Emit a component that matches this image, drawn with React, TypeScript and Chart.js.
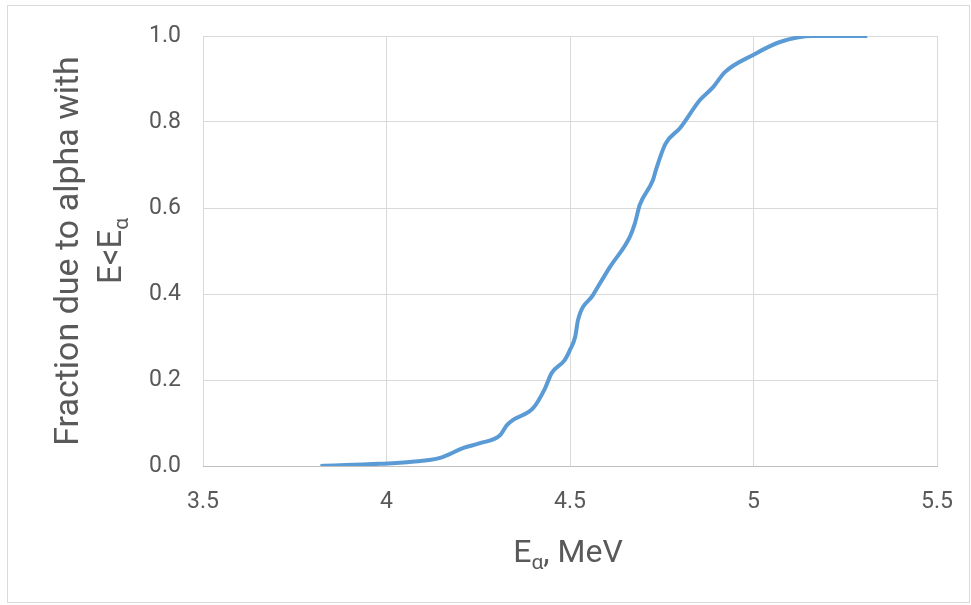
import React, { useEffect, useRef } from "react";
import { Chart, registerables } from "chart.js";

Chart.register(...registerables);

const energies = [3.82, 3.98, 4.07, 4.146, 4.21, 4.255, 4.31, 4.328, 4.345, 4.4, 4.43, 4.45, 4.486, 4.5, 4.514, 4.522, 4.563, 4.609, 4.663, 4.677, 4.69, 4.726, 4.734, 4.76, 4.8, 4.854, 4.89, 4.922, 4.999, 5.072, 5.162, 5.31];
const fractions = [0, 0.005, 0.01, 0.019, 0.042, 0.053, 0.072, 0.095, 0.107, 0.135, 0.177, 0.216, 0.247, 0.27, 0.3, 0.34, 0.398, 0.463, 0.533, 0.565, 0.607, 0.665, 0.688, 0.749, 0.786, 0.851, 0.881, 0.916, 0.956, 0.986, 1.0, 1.0];

const xTitle = [{ t: "E" }, { t: "α", sub: true }, { t: ", MeV" }];
const yTitle1 = [{ t: "Fraction due to alpha with" }];
const yTitle2 = [{ t: "E<E" }, { t: "α", sub: true }];

const FONT = "'Roboto', sans-serif";
const TEXT = "#595959";

function drawRich(ctx: CanvasRenderingContext2D, segs: { t: string; sub?: boolean }[], cx: number, baseline: number, size: number) {
  const subSize = Math.round(size * 0.65);
  let total = 0;
  const widths = segs.map((s) => {
    ctx.font = `${s.sub ? subSize : size}px ${FONT}`;
    const w = ctx.measureText(s.t).width;
    total += w;
    return w;
  });
  let x = cx - total / 2;
  ctx.textAlign = "left";
  ctx.textBaseline = "alphabetic";
  segs.forEach((s, i) => {
    ctx.font = `${s.sub ? subSize : size}px ${FONT}`;
    ctx.fillText(s.t, x, baseline + (s.sub ? size * 0.22 : 0));
    x += widths[i];
  });
}

const decor = {
  id: "decor",
  beforeDraw(chart: any) {
    const ctx = chart.ctx as CanvasRenderingContext2D;
    ctx.save();
    ctx.fillStyle = "#ffffff";
    ctx.fillRect(0, 0, chart.width, chart.height);
    ctx.strokeStyle = "#d9d9d9";
    ctx.lineWidth = 1;
    ctx.strokeRect(7.5, 5.5, 962, 597);
    ctx.restore();
  },
  afterDraw(chart: any) {
    const ctx = chart.ctx as CanvasRenderingContext2D;
    ctx.save();
    ctx.fillStyle = TEXT;
    drawRich(ctx, xTitle, 568, 562, 32);
    ctx.save();
    ctx.translate(78, 251);
    ctx.rotate(-Math.PI / 2);
    drawRich(ctx, yTitle1, 0, 0, 34);
    ctx.restore();
    ctx.save();
    ctx.translate(121, 251);
    ctx.rotate(-Math.PI / 2);
    drawRich(ctx, yTitle2, 0, 0, 33);
    ctx.restore();
    ctx.restore();
  },
};

export default function App() {
  const ref = useRef<HTMLCanvasElement>(null);
  useEffect(() => {
    document.body.style.margin = "0";
    const chart = new Chart(ref.current!, {
      type: "line",
      data: {
        datasets: [
          {
            data: energies.map((e, i) => ({ x: e, y: fractions[i] })),
            borderColor: "#5b9bd5",
            borderWidth: 4,
            pointRadius: 0,
            cubicInterpolationMode: "monotone",
            fill: false,
          },
        ],
      },
      options: {
        responsive: false,
        animation: false,
        layout: { padding: { top: 36, right: 34, left: 0, bottom: 0 } },
        plugins: { legend: { display: false }, tooltip: { enabled: false } },
        scales: {
          x: {
            type: "linear",
            min: 3.5,
            max: 5.5,
            ticks: {
              stepSize: 0.5,
              color: TEXT,
              font: { family: FONT, size: 23 },
              padding: 22,
              callback: (v: any) => String(Number(v)),
            },
            grid: { color: "#d9d9d9", lineWidth: 1, drawTicks: false },
            border: { color: "#bfbfbf", width: 1 },
            afterFit(scale: any) {
              scale.height = 605 - 466;
              scale.paddingRight = 0;
              scale.paddingLeft = 0;
            },
          },
          y: {
            min: 0,
            max: 1,
            ticks: {
              stepSize: 0.2,
              color: TEXT,
              font: { family: FONT, size: 23 },
              padding: 22,
              callback: (v: any) => Number(v).toFixed(1),
            },
            grid: { color: "#d9d9d9", lineWidth: 1, drawTicks: false },
            border: { display: false },
            afterFit(scale: any) {
              scale.width = 203;
              scale.paddingTop = 0;
              scale.paddingBottom = 0;
            },
          },
        },
      },
      plugins: [decor],
    });
    return () => chart.destroy();
  }, []);
  return (
    <div style={{ position: "absolute", left: 0, top: 0, width: 971, height: 605 }}>
      <canvas ref={ref} width={971} height={605} />
    </div>
  );
}
